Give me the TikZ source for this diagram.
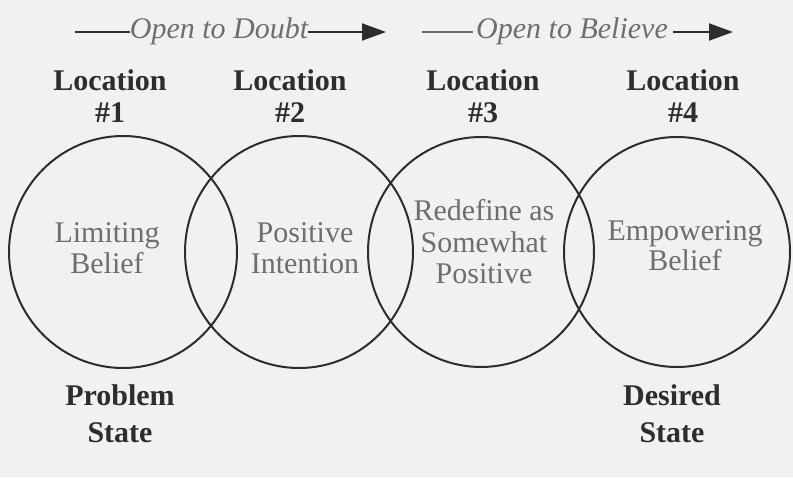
\documentclass[tikz,border=0pt]{standalone}
\usepackage{fontspec}
\setmainfont{Liberation Serif}
\usetikzlibrary{arrows.meta}
\definecolor{bgc}{RGB}{241,241,241}
\definecolor{ink}{RGB}{45,45,45}
\definecolor{soft}{RGB}{110,110,110}
\tikzset{
  ring/.style={draw=ink, line width=2pt},
  head/.style={font=\fontsize{30}{32}\selectfont\bfseries, text=ink, anchor=base, inner sep=0pt},
  inner/.style={font=\fontsize{30}{32}\selectfont, text=soft, anchor=base, inner sep=0pt},
  flow/.style={font=\fontsize{30}{32}\selectfont\itshape, text=soft, anchor=base, inner sep=0pt},
  flowline/.style={draw=ink, line width=2pt},
  tip/.style={-{Triangle[length=24pt,width=17pt]}}
}
\begin{document}
\begin{tikzpicture}[x=1pt,y=-1pt]
\fill[bgc] (0,0) rectangle (793,477);
\useasboundingbox (0,0) rectangle (793,477);
% circles
\draw[ring] (123,252) ellipse [x radius=114, y radius=116];
\draw[ring] (299,252) ellipse [x radius=114, y radius=116];
\draw[ring] (481,252) ellipse [x radius=113, y radius=115];
\draw[ring] (677,252) ellipse [x radius=113, y radius=115];
% top flow labels
\node[flow] (d) at (219,38) {Open to Doubt};
\coordinate (d0) at (75,32);
\coordinate (d1) at (386,32);
\draw[flowline] (d0) -- (d.west |- d0);
\draw[flowline, tip] (d.east |- d1) -- (d1);
\node[flow] (b) at (572,38) {Open to Believe};
\coordinate (b0) at (422,32);
\coordinate (b1) at (733,32);
\draw[flowline, draw=soft] (b0) -- ([xshift=-3pt]b.west |- b0);
\draw[flowline, tip] ([xshift=5pt]b.east |- b1) -- (b1);
% location headings
\node[head] (l1) at (110,90) {Location};
\node[head] (n1) at (110,122) {\#1};
\node[head] (l2) at (290,90) {Location};
\node[head] (n2) at (290,122) {\#2};
\node[head] (l3) at (483,90) {Location};
\node[head] (n3) at (483,122) {\#3};
\node[head] (l4) at (683,90) {Location};
\node[head] (n4) at (683,122) {\#4};
% inner texts
\node[inner] (t1a) at (107,242) {Limiting};
\node[inner] (t1b) at (107,273) {Belief};
\node[inner] (t2a) at (305,242) {Positive};
\node[inner] (t2b) at (305,273) {Intention};
\node[inner] (t3a) at (484,220) {Redefine as};
\node[inner] (t3b) at (484,252) {Somewhat};
\node[inner] (t3c) at (484,283) {Positive};
\node[inner] (t4a) at (685,240) {Empowering};
\node[inner] (t4b) at (685,270) {Belief};
% bottom labels
\node[head] (p1) at (120,405) {Problem};
\node[head] (p2) at (120,442) {State};
\node[head] (s1) at (672,405) {Desired};
\node[head] (s2) at (672,442) {State};
\end{tikzpicture}
\end{document}
